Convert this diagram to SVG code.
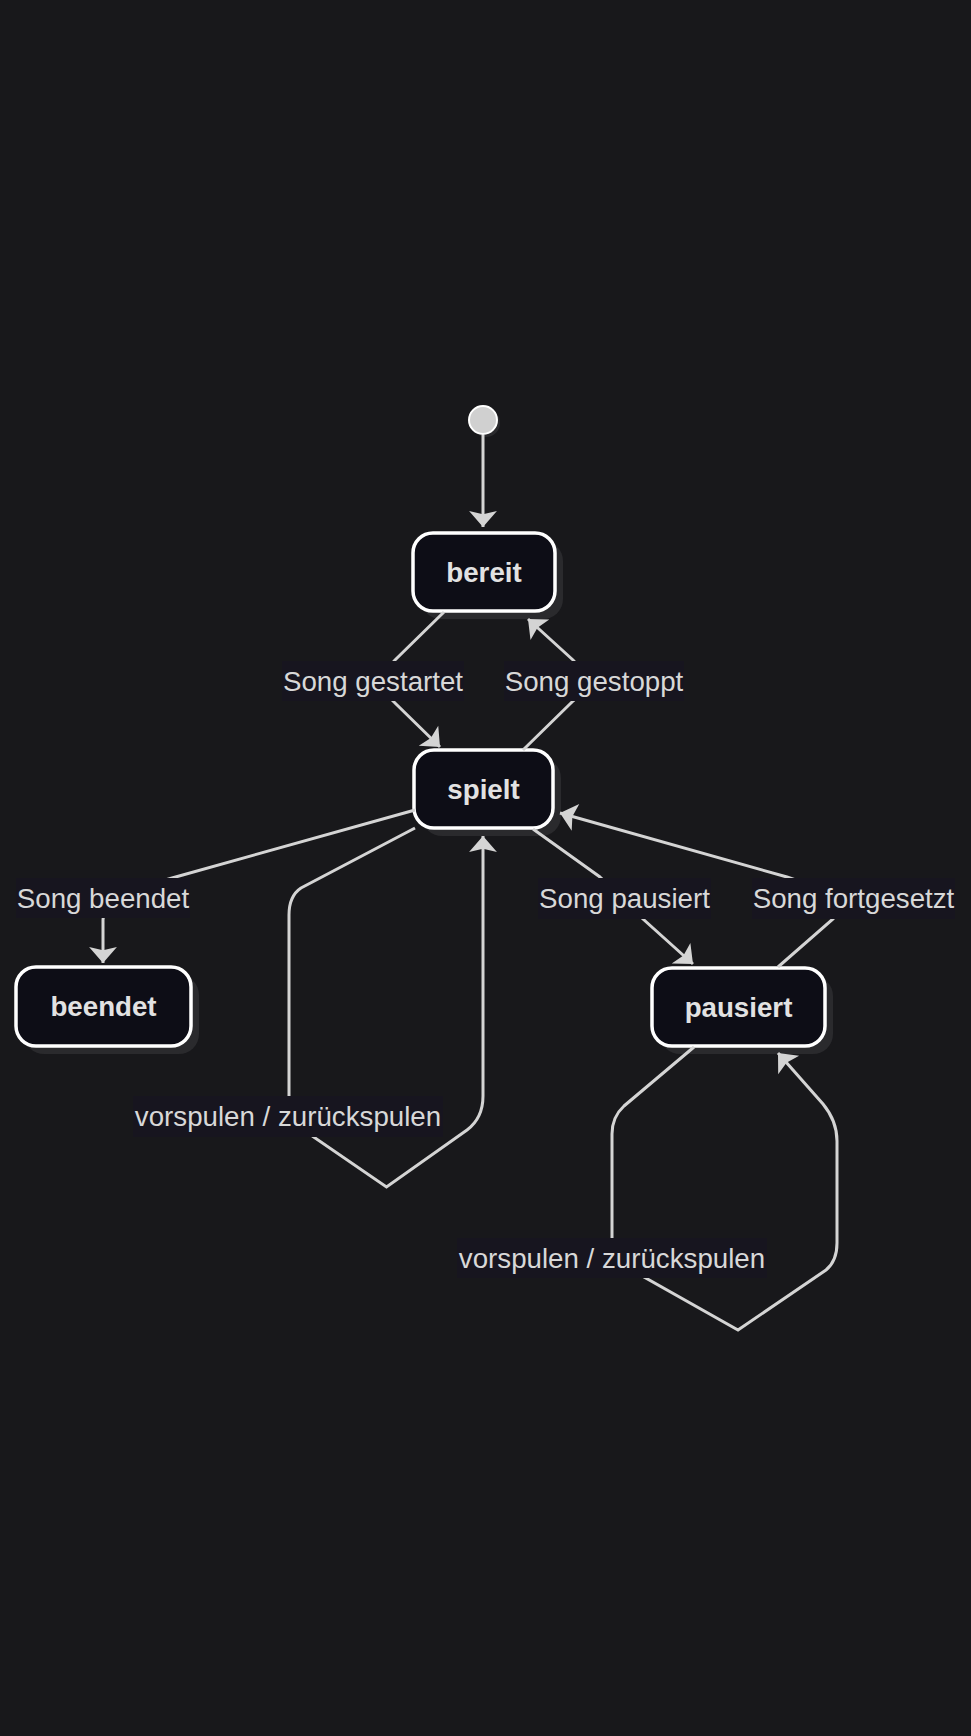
<svg xmlns="http://www.w3.org/2000/svg" width="971" height="1736" viewBox="0 0 971 1736">
<style>
.bg{fill:#18181b}
.node{fill:#0d0d16;stroke:#ffffff;stroke-width:3.5}
.shadow{fill:#2a2a2d}
.ntext{font-family:"Liberation Sans",Arial,sans-serif;font-size:27.7px;font-weight:bold;fill:#e2e2e2;text-anchor:middle;dominant-baseline:central}
.edge{fill:none;stroke:#d4d4d4;stroke-width:3}
.lbg{fill:#17151f}
.ltext{font-family:"Liberation Sans",Arial,sans-serif;font-size:27.7px;fill:#d8d8d8;text-anchor:middle;dominant-baseline:central}
</style>
<defs>
<marker id="arr" markerUnits="userSpaceOnUse" markerWidth="20" markerHeight="30" viewBox="0 -14 16 28" refX="15" refY="0" orient="auto">
<path d="M0,-13 L15,0 L0,13 L3,0 z" fill="#d4d4d4"/>
</marker>
</defs>
<rect class="bg" x="0" y="0" width="971" height="1736"/>

<g id="start">
<circle cx="486" cy="423" r="14" class="shadow"/>
<circle cx="483" cy="420" r="14" fill="#d0d0d0" stroke="#ffffff" stroke-width="2"/>
</g>
<g id="bereit">
<rect class="shadow" x="421" y="541" width="142" height="78" rx="20"/>
<rect class="node" x="413" y="533" width="142" height="78" rx="20"/>
<text class="ntext" x="484" y="572">bereit</text>
</g>
<g id="spielt">
<rect class="shadow" x="422" y="758" width="139" height="78" rx="20"/>
<rect class="node" x="414" y="750" width="139" height="78" rx="20"/>
<text class="ntext" x="483.5" y="789">spielt</text>
</g>
<g id="beendet">
<rect class="shadow" x="24" y="975" width="175" height="79" rx="20"/>
<rect class="node" x="16" y="967" width="175" height="79" rx="20"/>
<text class="ntext" x="103.5" y="1006.5">beendet</text>
</g>
<g id="pausiert">
<rect class="shadow" x="660" y="976" width="173" height="78" rx="20"/>
<rect class="node" x="652" y="968" width="173" height="78" rx="20"/>
<text class="ntext" x="738.5" y="1007">pausiert</text>
</g>

<g id="connectors">
<path class="edge" d="M483,435 L483,527" marker-end="url(#arr)"/>
<path class="edge" d="M444,612 L395,660 Q372,682 395,703 L440,747" marker-end="url(#arr)"/>
<path class="edge" d="M523,750 L573,701 Q596,681 573,660 L528,619" marker-end="url(#arr)"/>
<path class="edge" d="M415,810 L172,878 Q103,898 103,920 L103,963" marker-end="url(#arr)"/>
<path class="edge" d="M415,828 L301,888 Q289,896 289,915 L289,1110 Q289,1125 305,1131 L386.5,1187 L467,1130 Q483,1118 483,1096 L483,836" marker-end="url(#arr)"/>
<path class="edge" d="M533,829 L600,877 Q620,895 643,919 L693,964" marker-end="url(#arr)"/>
<path class="edge" d="M778,967 L833,919 Q850,898 787,877 L560,813" marker-end="url(#arr)"/>
<path class="edge" d="M694,1047 L624,1106 Q612,1117 612,1134 L612,1250 Q615,1270 635,1272 L738,1330 L826,1270 Q837,1261 837,1243 L837,1141 Q837,1121 823,1104 L778,1053" marker-end="url(#arr)"/>
</g>

<g id="labels">
<g id="label-gestartet"><rect class="lbg" x="282" y="661" width="182" height="40"/><text class="ltext" x="373" y="681">Song gestartet</text></g>
<g id="label-gestoppt"><rect class="lbg" x="504" y="661" width="180" height="40"/><text class="ltext" x="594" y="681">Song gestoppt</text></g>
<g id="label-beendet"><rect class="lbg" x="16" y="878" width="174" height="40"/><text class="ltext" x="103" y="898">Song beendet</text></g>
<g id="label-pausiert"><rect class="lbg" x="538" y="878" width="173" height="41"/><text class="ltext" x="624.5" y="898.5">Song pausiert</text></g>
<g id="label-fortgesetzt"><rect class="lbg" x="752" y="878" width="203" height="41"/><text class="ltext" x="853.5" y="898.5">Song fortgesetzt</text></g>
<g id="label-spulen1"><rect class="lbg" x="133" y="1096" width="310" height="41"/><text class="ltext" x="288" y="1116.5">vorspulen / zurückspulen</text></g>
<g id="label-spulen2"><rect class="lbg" x="457" y="1238" width="310" height="40"/><text class="ltext" x="612" y="1258">vorspulen / zurückspulen</text></g>
</g>
</svg>
